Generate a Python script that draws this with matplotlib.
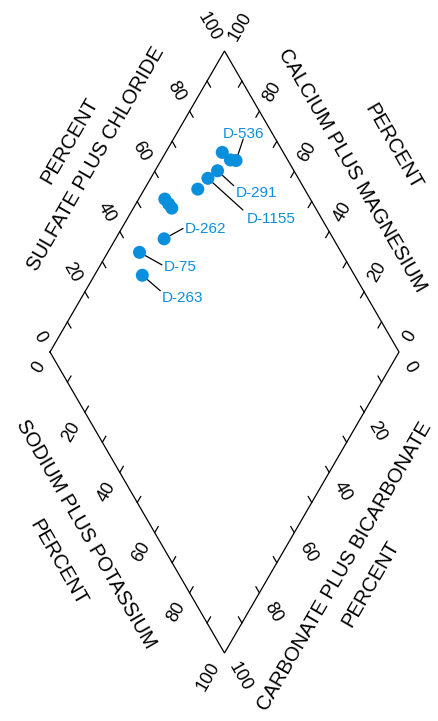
import numpy as np
import matplotlib
matplotlib.use('Agg')
import matplotlib.pyplot as plt

plt.rcParams['font.family'] = ['Liberation Sans', 'DejaVu Sans']

#sample values, percent of milliequivalents
sulfate_chloride = [39.2, 42.2, 51.5, 58.3, 58.6, 58.8, 69.4, 74.1, 78.1, 82.5, 83.6, 85.1]
sodium_potassium = [13.7, 9.1, 13.9, 7.5, 9.4, 11.0, 15.3, 16.4, 17.9, 16.2, 19.8, 21.5]

#labelled samples (index into the arrays above)
sample_names = ['D-263', 'D-75', 'D-262', 'D-1155', 'D-291', 'D-536']
sample_index = [0, 1, 2, 7, 8, 11]

#tick values along each edge
tick_values = np.arange(10, 100, 10)
label_values = [0, 20, 40, 60, 80, 100]

#colors
blue = '#0a8fdc'

H = np.sqrt(3) / 2

def diamond_xy(anion, cation):
    a = np.asarray(anion) / 100.0
    n = np.asarray(cation) / 100.0
    return 0.5 * (a + n), H * (a - n)

fig = plt.figure(figsize=(4.39, 7.21), dpi=100)
ax = fig.add_axes([0, 0, 1, 1])
ax.set_xlim(-50 / 349, 389 / 349)
ax.set_ylim(-369 / 347.6, 352 / 347.6)
ax.axis('off')

#outline
ax.plot([0, 0.5, 1, 0.5, 0], [0, H, 0, -H, 0], color='black', lw=0.9, solid_joinstyle='miter')

#edges: start point, direction along edge, tick direction, outward normal, rotation, ha
edges = [
    ((0, 0), (0.5, H), (0.5, -H), (-H, 0.5), -60, 'right'),     #sulfate plus chloride
    ((1, 0), (-0.5, H), (-0.5, -H), (H, 0.5), 60, 'left'),      #calcium plus magnesium
    ((0, 0), (0.5, -H), (0.5, H), (-H, -0.5), 60, 'right'),     #sodium plus potassium
    ((1, 0), (-0.5, -H), (-0.5, H), (H, -0.5), -60, 'left'),    #carbonate plus bicarbonate
]

tick_len = 0.02
gap = 0.03
out = 0.01
for start, along, tdir, normal, rot, ha in edges:
    sx, sy = start
    for v in tick_values / 100.0:
        px, py = sx + v * along[0], sy + v * along[1]
        ax.plot([px, px + tick_len * tdir[0]], [py, py + tick_len * tdir[1]],
                color='black', lw=0.9)
    for v in label_values:
        f = v / 100.0
        px, py = sx + f * along[0], sy + f * along[1]
        tx = px - gap * tdir[0] + out * normal[0]
        ty = py - gap * tdir[1] + out * normal[1]
        ax.text(tx, ty, str(v), rotation=rot, rotation_mode='anchor',
                ha=ha, va='center', fontsize=13)

#axis titles
title_size = 14.5
ax.text(0.1318, 0.5567, 'SULFATE PLUS CHLORIDE', rotation=60, ha='center', va='center', fontsize=title_size)
ax.text(0.0573, 0.6085, 'PERCENT', rotation=60, ha='center', va='center', fontsize=title_size)
ax.text(0.8645, 0.5236, 'CALCIUM PLUS MAGNESIUM', rotation=-60, ha='center', va='center', fontsize=title_size)
ax.text(0.9828, 0.5898, 'PERCENT', rotation=-60, ha='center', va='center', fontsize=title_size)
ax.text(0.1026, -0.5236, 'SODIUM PLUS POTASSIUM', rotation=-60, ha='center', va='center', fontsize=title_size)
ax.text(0.0238, -0.6070, 'PERCENT', rotation=-60, ha='center', va='center', fontsize=title_size)
ax.text(0.8453, -0.6156, 'CARBONATE PLUS BICARBONATE', rotation=60, ha='center', va='center', fontsize=title_size)
ax.text(0.9198, -0.6674, 'PERCENT', rotation=60, ha='center', va='center', fontsize=title_size)

#samples
x, y = diamond_xy(sulfate_chloride, sodium_potassium)
ax.scatter(x, y, s=88, color=blue, edgecolors='none', zorder=5)

#sample labels: leader end and text offsets in pixels
leader_offsets = [(18, -15.5), (22.4, -12.5), (18.9, 10.3), (35, -31.7), (16.3, -15), (7.2, 21.5)]
text_offsets = [(19.7, -27.2), (24, -18.2), (20.5, 5.7), (38.4, -44.4), (18, -26.6), (-12.8, 23)]

for name, idx, lo, to in zip(sample_names, sample_index, leader_offsets, text_offsets):
    ax.annotate('', xy=(x[idx], y[idx]), xytext=lo, textcoords='offset pixels',
                arrowprops=dict(arrowstyle='-', color='black', lw=0.9, shrinkA=0, shrinkB=0))
    ax.annotate(name, xy=(x[idx], y[idx]), xytext=to, textcoords='offset pixels',
                ha='left', va='baseline', fontsize=11, color=blue)

fig.savefig('out.png', dpi=100)
